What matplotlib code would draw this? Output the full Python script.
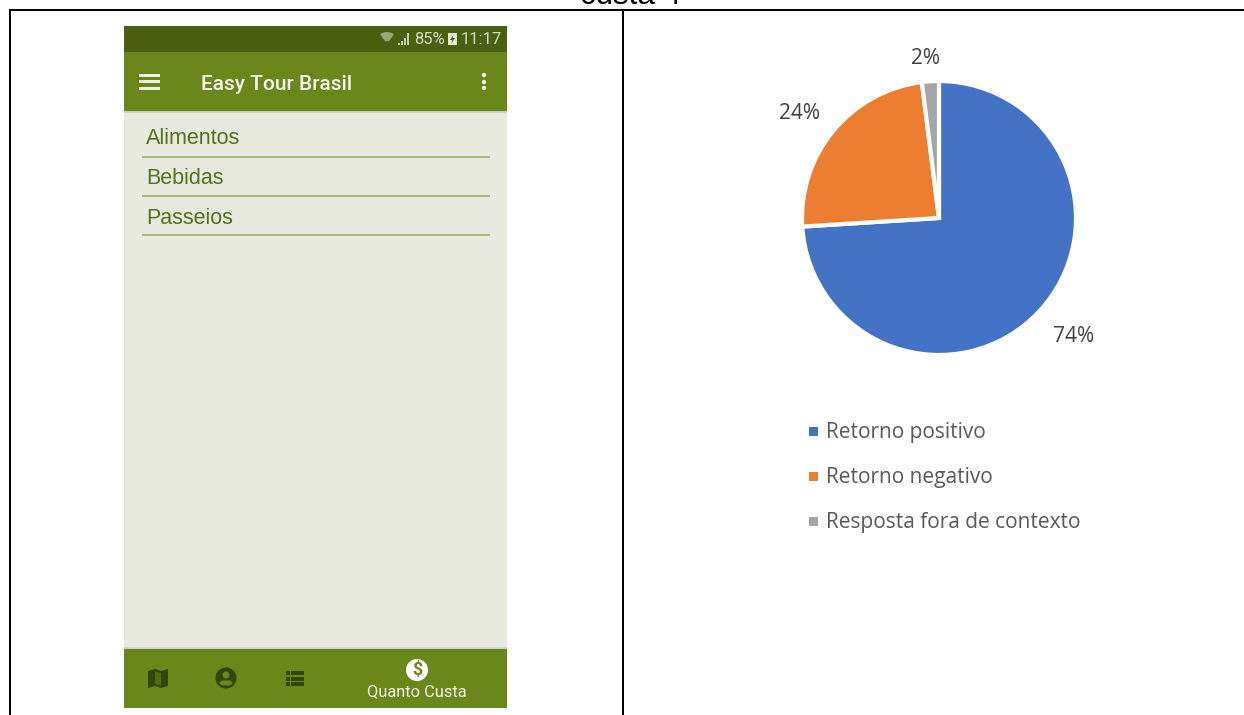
"""
Two-panel figure: app screen mockup on the left, survey pie chart on the right
"""

# %% Imports

import matplotlib
matplotlib.use('Agg')
import matplotlib.pyplot as plt
from matplotlib.patches import Circle, Polygon, Rectangle, Wedge


# %% Data

labels = ['Retorno positivo', 'Retorno negativo', 'Resposta fora de contexto']
shares = [74, 24, 2]
colours = ['#4472C4', '#ED7D31', '#A5A5A5']
menu_items = ['Alimentos', 'Bebidas', 'Passeios']
menu_rows = [139, 179, 219]
menu_rules = [157, 196, 235]


# %% Figure with a pixel coordinate overlay

W, H = 1244, 715
fig = plt.figure(figsize=(W / 100, H / 100), dpi=100, facecolor='white')

bg = fig.add_axes([0, 0, 1, 1])
bg.set_xlim(0, W)
bg.set_ylim(H, 0)
bg.axis('off')


def box(x0, y0, x1, y1, colour, z=1):
    bg.add_patch(Rectangle((x0, y0), x1 - x0, y1 - y0, fc=colour, ec='none',
                           zorder=z))


# %% Table frame and clipped heading

box(9, 9, W, 11, 'black', 5)
box(9, 9, 11, H, 'black', 5)
box(622, 9, 624, H, 'black', 5)
bg.text(630, 4, 'custa 4', ha='center', va='baseline', fontsize=22.5,
        family='Liberation Sans', color='black', clip_on=True)


# %% Phone screen

GREEN = '#69871A'
DARK = '#4A5F10'
TEXT = '#55701F'

box(124, 26, 507, 708, '#E9EADF')
box(124, 26, 507, 52, DARK, 2)
box(124, 52, 507, 111, GREEN, 2)
box(124, 111, 507, 113, '#CFD0C6', 2)
box(124, 649, 507, 708, GREEN, 2)
box(124, 647, 507, 649, '#D2D3C8', 2)

# Status bar
STATUS = '#D5DBC2'
bg.text(444.5, 39, '85%', ha='right', va='center', fontsize=12,
        family='Roboto', color=STATUS, zorder=3)
bg.text(501.5, 39, '11:17', ha='right', va='center', fontsize=12,
        family='Roboto', color=STATUS, zorder=3)
box(448, 33, 457, 45, '#E4E8D6', 3)
bg.add_patch(Polygon([(453.5, 35), (450, 40), (452.5, 40), (451.5, 43.5),
                      (455, 38), (452.5, 38)], fc=DARK, ec='none', zorder=4))
bg.add_patch(Wedge((387, 44), 12, 235, 305, width=9, fc='#9AA878', ec='none',
                   zorder=3))
for x, top in zip([398, 401, 404, 407], [43, 41, 38, 33]):
    box(x, top, x + 2, 45, '#C6CFAB', 3)

# Toolbar
for y in [75, 81.5, 88]:
    box(139, y - 1.5, 160, y + 1.5, '#EEF1E3', 3)
bg.text(201, 84, 'Easy Tour Brasil', ha='left', va='center', fontsize=15,
        family='Roboto', weight='medium', color='#F6F7F0', zorder=3)
for y in [75, 82, 88]:
    bg.add_patch(Circle((484, y), 2.2, fc='#F6F7F0', ec='none', zorder=3))

# Menu rows
for item, y, rule in zip(menu_items, menu_rows, menu_rules):
    bg.text(146, y, item, ha='left', va='center', fontsize=15.5,
            family='Liberation Sans', color=TEXT, zorder=3)
    box(142, rule - 1, 490, rule + 0.5, '#A6BA78', 3)

# Bottom navigation
ICON = '#33450C'
bg.add_patch(Polygon([(148, 671), (155, 669), (161, 671), (168, 669),
                      (168, 686), (161, 688), (155, 686), (148, 688)],
                     fc=ICON, ec='none', zorder=3))
bg.add_patch(Polygon([(155, 671.5), (161, 673), (161, 685.5), (155, 684)],
                     fc='#4F6A14', ec='none', zorder=4))
bg.add_patch(Circle((226, 678), 10.5, fc=ICON, ec='none', zorder=3))
bg.add_patch(Circle((226, 675), 3.5, fc=GREEN, ec='none', zorder=4))
bg.add_patch(Polygon([(219, 683), (222, 680.5), (230, 680.5), (233, 683),
                      (230, 685.5), (222, 685.5)], fc=GREEN, ec='none',
                     zorder=4))
for y in [671, 676.5, 682]:
    box(285.5, y, 289.5, y + 4, ICON, 3)
    box(291, y, 304, y + 4, ICON, 3)
bg.add_patch(Circle((417, 670), 11, fc='white', ec='none', zorder=3))
bg.text(417, 670, '$', ha='center', va='center', fontsize=13, weight='bold',
        family='Roboto', color=GREEN, zorder=4)
bg.text(417, 692, 'Quanto Custa', ha='center', va='center', fontsize=11.8,
        family='Roboto', color='#F3F5E8', zorder=3)


# %% Pie chart

cx, cy, r = 939, 218, 137
ax = fig.add_axes([(cx - r) / W, 1 - (cy + r) / H, 2 * r / W, 2 * r / H])
ax.pie(shares, colors=colours, startangle=90, counterclock=False, radius=1,
       wedgeprops={'edgecolor': 'white', 'linewidth': 3})
ax.set_xlim(-1, 1)
ax.set_ylim(-1, 1)

# Percent labels and legend
PIE_TEXT = '#404040'
for share, x, y in zip(shares, [1074, 799, 926], [336.5, 113.5, 58.5]):
    bg.text(x, y, f'{share}%', ha='center', va='center', fontsize=15,
            family='Open Sans', color=PIE_TEXT)

for label, colour, y in zip(labels, colours, [431, 476, 521]):
    box(809, y - 4.5, 818, y + 4.5, colour, 3)
    bg.text(826, y + 1.5, label, ha='left', va='center', fontsize=15,
            family='Open Sans', color='#595959')

fig.savefig('out.png', dpi=100)
